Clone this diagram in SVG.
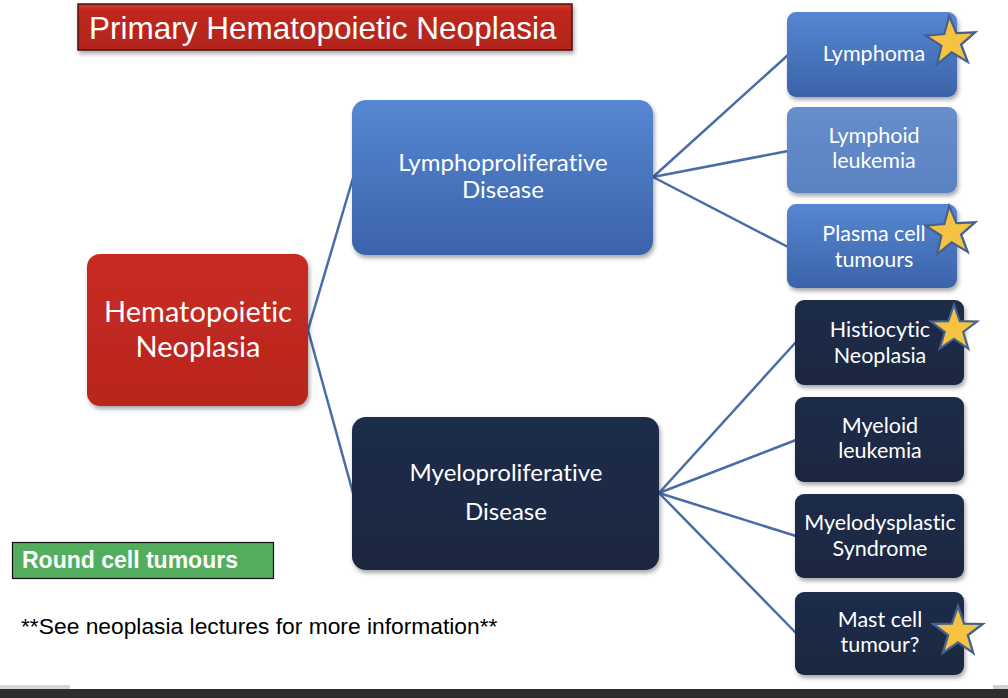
<svg xmlns="http://www.w3.org/2000/svg" width="1008" height="698" viewBox="0 0 1008 698">
<defs>
<style>
.lbl{font-family:Lato,"Open Sans","Noto Sans",sans-serif;fill:#ffffff;text-anchor:middle;font-variant-ligatures:none}
.big{font-size:24px}
.huge{font-size:29px}
.small{font-size:21.5px}
.conn{stroke:#4a6ca6;stroke-width:2.5;fill:none}
.star{fill:#f5c242;stroke:#44618f;stroke-width:2.2;stroke-linejoin:miter}
</style>
<linearGradient id="gBlue" x1="0" y1="0" x2="0" y2="1">
<stop offset="0" stop-color="#5687d2"/><stop offset="1" stop-color="#3b63aa"/>
</linearGradient>
<linearGradient id="gBlueL" x1="0" y1="0" x2="0" y2="1">
<stop offset="0" stop-color="#668dcc"/><stop offset="1" stop-color="#5a82c2"/>
</linearGradient>
<linearGradient id="gNavy" x1="0" y1="0" x2="0" y2="1">
<stop offset="0" stop-color="#1f2d4a"/><stop offset="1" stop-color="#1a2740"/>
</linearGradient>
<linearGradient id="gRed" x1="0" y1="0" x2="0" y2="1">
<stop offset="0" stop-color="#c82c23"/><stop offset="1" stop-color="#b8251d"/>
</linearGradient>
<linearGradient id="gTitle" x1="0" y1="0" x2="0" y2="1">
<stop offset="0" stop-color="#d6362c"/><stop offset="0.15" stop-color="#c0271f"/><stop offset="1" stop-color="#b2241c"/>
</linearGradient>
<filter id="sh" x="-10%" y="-10%" width="125%" height="130%">
<feDropShadow dx="1.5" dy="3" stdDeviation="2" flood-color="#000" flood-opacity="0.35"/>
</filter>
<path id="star" d="M0,-25 L5.88,-8.09 L23.78,-7.73 L9.51,3.09 L14.69,20.23 L0,10 L-14.69,20.23 L-9.51,3.09 L-23.78,-7.73 L-5.88,-8.09 Z"/>
</defs>
<rect width="1008" height="698" fill="#ffffff"/>

<g id="title">
<rect x="78" y="4" width="494" height="46" fill="url(#gTitle)" stroke="#4a1510" stroke-width="1.5" filter="url(#sh)"/>
<text x="89" y="39" font-family="'Liberation Sans',Arial,sans-serif" font-size="31.5" fill="#ffffff">Primary Hematopoietic Neoplasia</text>
</g>

<g id="connectors">
<line class="conn" x1="308" y1="330" x2="353" y2="178"/>
<line class="conn" x1="308" y1="330" x2="353" y2="493"/>
<line class="conn" x1="653" y1="177" x2="788" y2="55"/>
<line class="conn" x1="653" y1="177" x2="788" y2="151"/>
<line class="conn" x1="653" y1="177" x2="788" y2="247"/>
<line class="conn" x1="659" y1="493" x2="796" y2="342"/>
<line class="conn" x1="659" y1="493" x2="796" y2="440"/>
<line class="conn" x1="659" y1="493" x2="796" y2="536"/>
<line class="conn" x1="659" y1="493" x2="796" y2="633"/>
</g>

<g id="hematopoietic">
<rect x="87" y="254" width="221" height="152" rx="13" fill="url(#gRed)" filter="url(#sh)"/>
<text class="lbl huge" x="198" y="322">Hematopoietic</text>
<text class="lbl huge" x="198" y="357">Neoplasia</text>
</g>

<g id="lympho">
<rect x="352" y="100" width="301" height="155" rx="14" fill="url(#gBlue)" filter="url(#sh)"/>
<text class="lbl big" x="503" y="171">Lymphoproliferative</text>
<text class="lbl big" x="503" y="198">Disease</text>
</g>

<g id="myelo">
<rect x="352" y="417" width="307" height="153" rx="14" fill="url(#gNavy)" filter="url(#sh)"/>
<text class="lbl big" x="506" y="481">Myeloproliferative</text>
<text class="lbl big" x="506" y="520">Disease</text>
</g>

<g id="lymphoma">
<rect x="787" y="12" width="170" height="85" rx="9" fill="url(#gBlue)" filter="url(#sh)"/>
<text class="lbl small" x="874" y="61">Lymphoma</text>
<use href="#star" class="star" transform="translate(951,42) rotate(-4) scale(1.04)"/>
</g>

<g id="lymphoid">
<rect x="787" y="107" width="170" height="86" rx="9" fill="url(#gBlueL)" filter="url(#sh)"/>
<text class="lbl small" x="874" y="143">Lymphoid</text>
<text class="lbl small" x="874" y="168">leukemia</text>
</g>

<g id="plasma">
<rect x="787" y="204" width="170" height="84" rx="9" fill="url(#gBlue)" filter="url(#sh)"/>
<text class="lbl small" x="874" y="241">Plasma cell</text>
<text class="lbl small" x="874" y="267">tumours</text>
<use href="#star" class="star" transform="translate(951,232) rotate(-4) scale(1.04)"/>
</g>

<g id="histiocytic">
<rect x="795" y="300" width="169" height="85" rx="9" fill="url(#gNavy)" filter="url(#sh)"/>
<text class="lbl small" x="880" y="337">Histiocytic</text>
<text class="lbl small" x="880" y="363">Neoplasia</text>
<use href="#star" class="star" transform="translate(954,329) scale(0.97)"/>
</g>

<g id="myeloid">
<rect x="795" y="397" width="169" height="85" rx="9" fill="url(#gNavy)" filter="url(#sh)"/>
<text class="lbl small" x="880" y="433">Myeloid</text>
<text class="lbl small" x="880" y="458">leukemia</text>
</g>

<g id="myelodysplastic">
<rect x="795" y="494" width="169" height="84" rx="9" fill="url(#gNavy)" filter="url(#sh)"/>
<text class="lbl small" x="880" y="530">Myelodysplastic</text>
<text class="lbl small" x="880" y="556">Syndrome</text>
</g>

<g id="mastcell">
<rect x="795" y="592" width="169" height="83" rx="9" fill="url(#gNavy)" filter="url(#sh)"/>
<text class="lbl small" x="880" y="627">Mast cell</text>
<text class="lbl small" x="880" y="652">tumour?</text>
<use href="#star" class="star" transform="translate(958,632) scale(1.04)"/>
</g>

<g id="roundcell">
<rect x="12.5" y="542.5" width="261" height="36" fill="#52ad5c" stroke="#111" stroke-width="1.2"/>
<text x="22" y="568" font-family="'Liberation Sans',Arial,sans-serif" font-size="23" font-weight="bold" fill="#ffffff">Round cell tumours</text>
</g>

<text x="21" y="634" font-family="'Liberation Sans',Arial,sans-serif" font-size="22.8" fill="#000000">**See neoplasia lectures for more information**</text>

<g id="bottombar">
<rect x="0" y="685" width="70" height="5" fill="#d6d6d6"/>
<rect x="993" y="685" width="15" height="5" fill="#cfcfcf"/>
<rect x="0" y="689" width="1008" height="9" fill="#2d2d2d"/>
</g>
</svg>
